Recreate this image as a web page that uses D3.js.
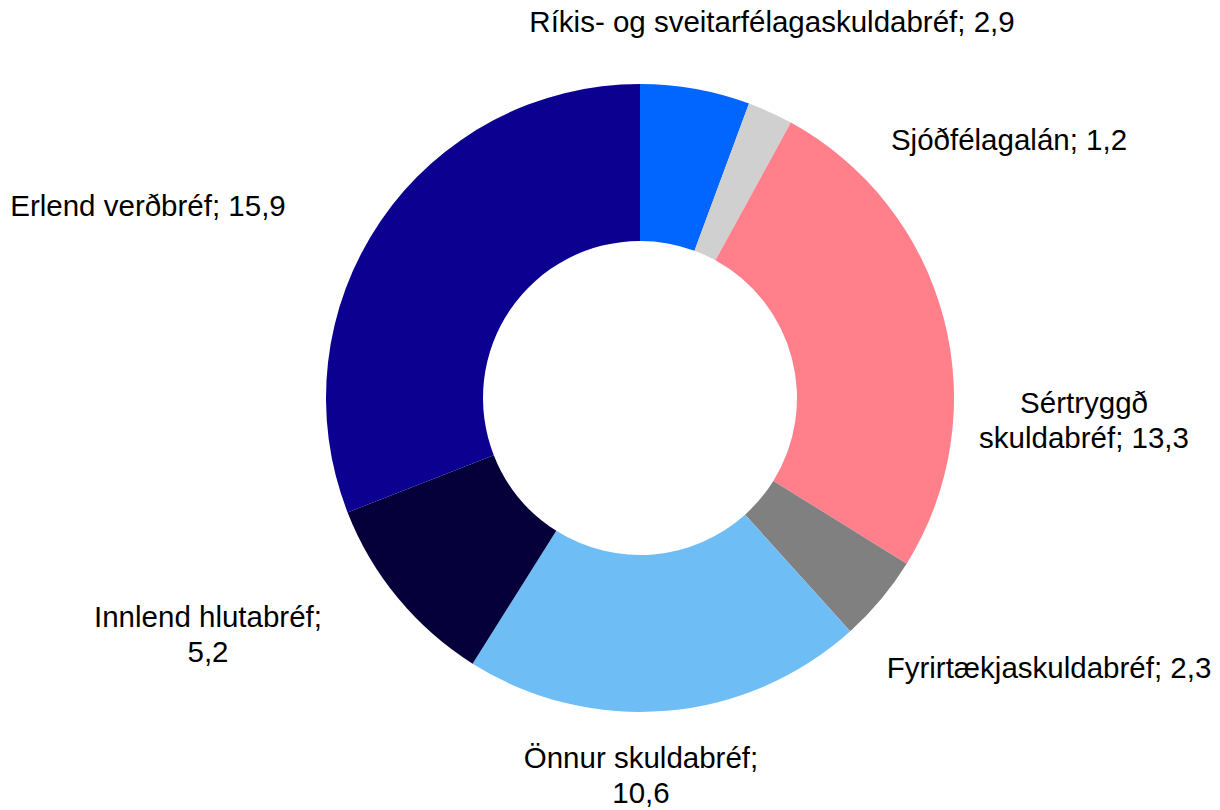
<!DOCTYPE html>
<html>
<head>
    <meta charset="utf-8">
    <title>Eignasamsetning</title>
    <script src="https://cdn.jsdelivr.net/npm/d3@7"></script>
    <style>
        body {
            margin: 0;
            background-color: white;
            font-family: "Liberation Sans", Arial, sans-serif;
        }
        .label {
            font-size: 29.5px;
            fill: #000;
        }
    </style>
</head>
<body>
    <div id="chart"></div>

    <script>
        // Data
        const categories = [
            "Ríkis- og sveitarfélagaskuldabréf",
            "Sjóðfélagalán",
            "Sértryggð skuldabréf",
            "Fyrirtækjaskuldabréf",
            "Önnur skuldabréf",
            "Innlend hlutabréf",
            "Erlend verðbréf"
        ];
        const values = [2.9, 1.2, 13.3, 2.3, 10.6, 5.2, 15.9];
        const colors = ["#0066ff", "#d0d0d0", "#ff808b", "#808080", "#6fbdf5", "#05003a", "#0c0090"];

        // Label line breaks (how each label wraps)
        const labelLines = [
            ["Ríkis- og sveitarfélagaskuldabréf; 2,9"],
            ["Sjóðfélagalán; 1,2"],
            ["Sértryggð", "skuldabréf; 13,3"],
            ["Fyrirtækjaskuldabréf; 2,3"],
            ["Önnur skuldabréf;", "10,6"],
            ["Innlend hlutabréf;", "5,2"],
            ["Erlend verðbréf; 15,9"]
        ];

        // Layout
        const width = 1220, height = 810;
        const cx = 640, cy = 398;
        const outerR = 314, innerR = 157;
        const lineHeight = 35;
        // label anchor (text center, first baseline) relative to chart center
        const labelOffsets = [
            [132, -366], [369, -248], [444, 15], [409, 280],
            [1, 370], [-432, 229], [-492, -182]
        ];

        const svg = d3.select("#chart")
            .append("svg")
            .attr("width", width)
            .attr("height", height);

        const g = svg.append("g")
            .attr("transform", `translate(${cx},${cy})`);

        const pie = d3.pie()
            .sort(null)
            .value(d => d);

        const arc = d3.arc()
            .innerRadius(innerR)
            .outerRadius(outerR);

        const arcs = pie(values);

        g.selectAll("path")
            .data(arcs)
            .enter()
            .append("path")
            .attr("d", arc)
            .attr("fill", (d, i) => colors[i]);

        // Labels
        const labels = g.selectAll("text.label")
            .data(arcs)
            .enter()
            .append("text")
            .attr("class", "label")
            .attr("text-anchor", "middle")
            .attr("x", (d, i) => labelOffsets[i][0])
            .attr("y", (d, i) => labelOffsets[i][1]);

        labels.each(function(d, i) {
            const t = d3.select(this);
            labelLines[i].forEach((line, j) => {
                t.append("tspan")
                    .attr("x", labelOffsets[i][0])
                    .attr("dy", j === 0 ? 0 : lineHeight)
                    .text(line);
            });
        });
    </script>
</body>
</html>
